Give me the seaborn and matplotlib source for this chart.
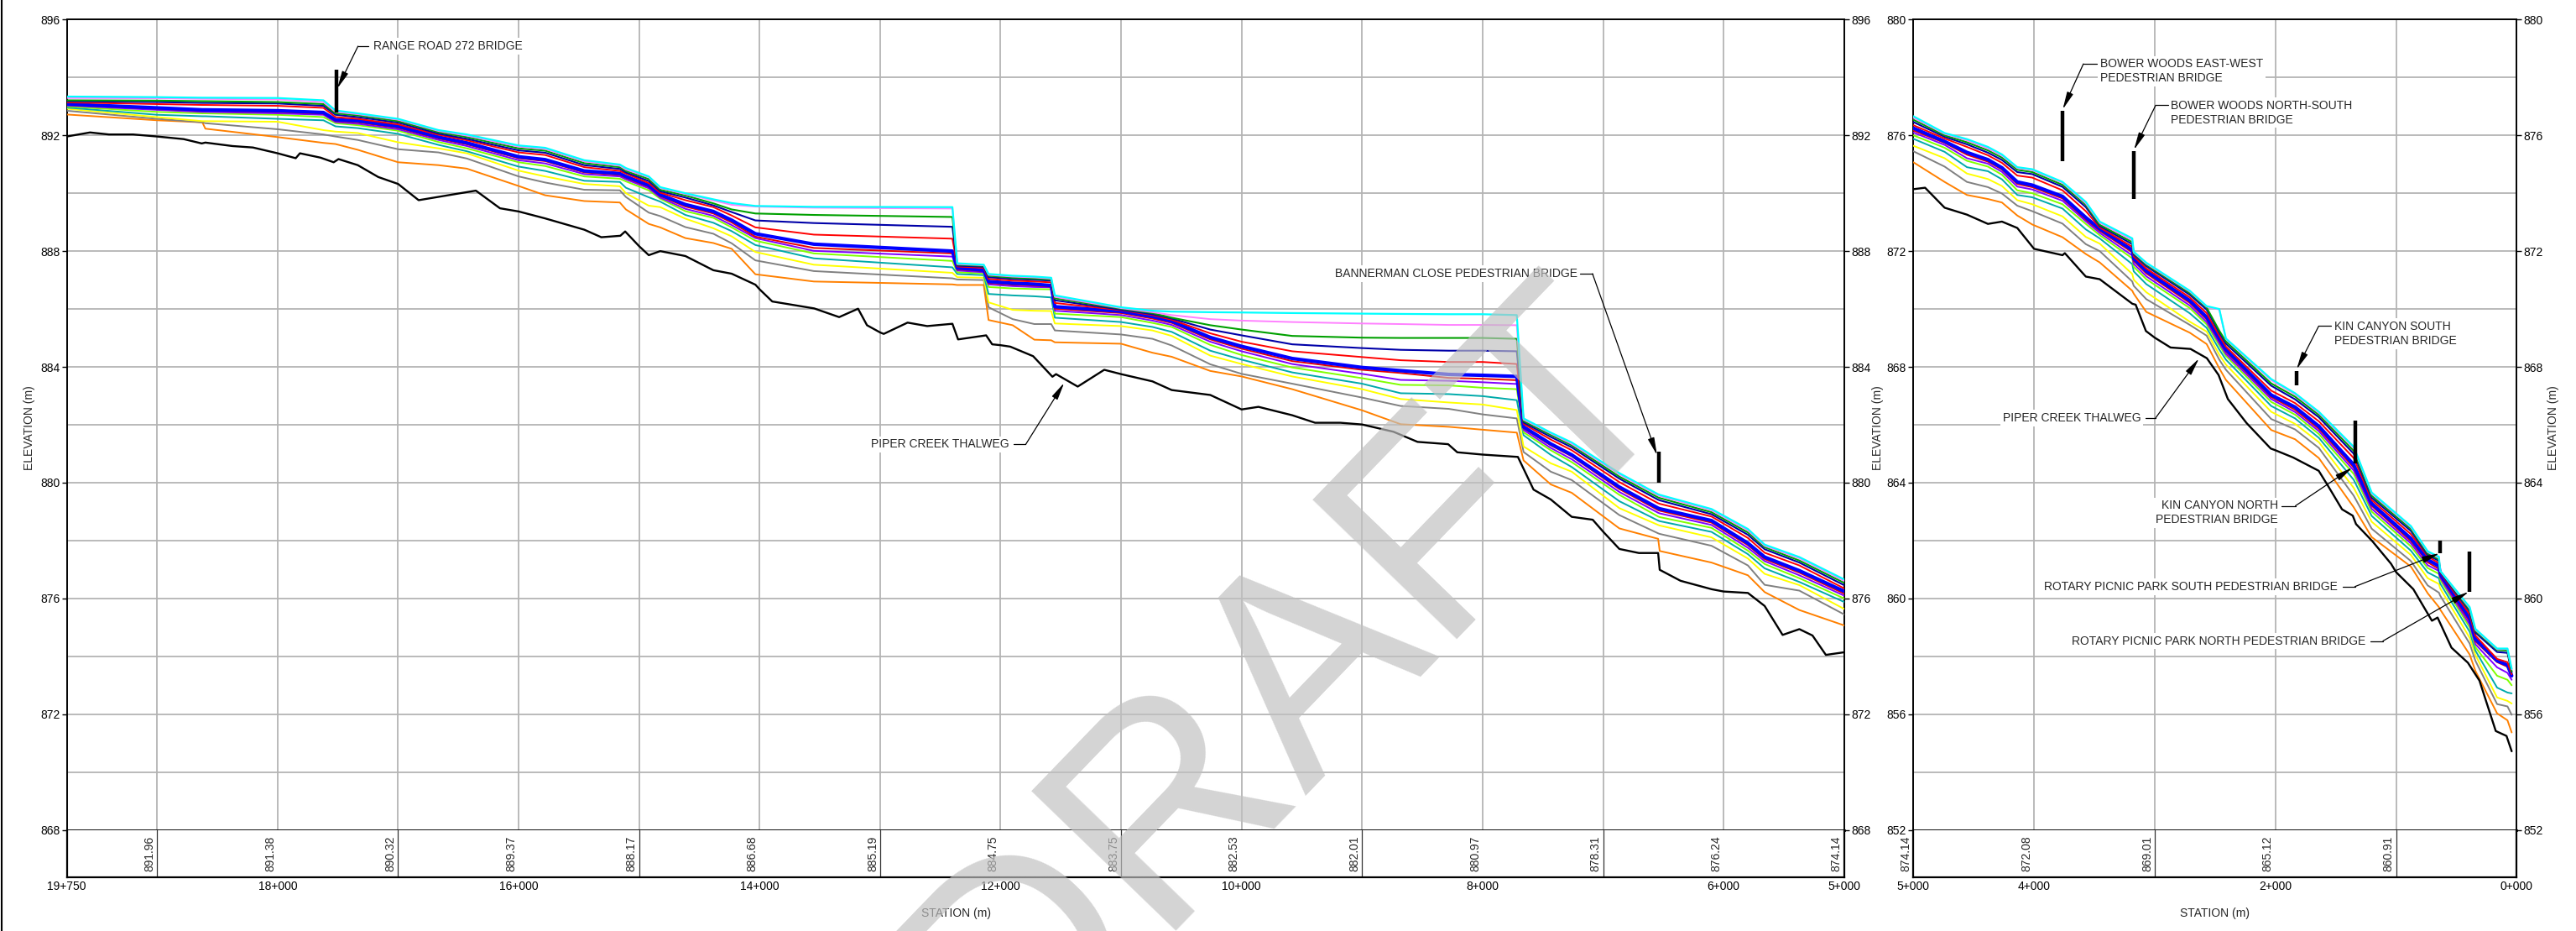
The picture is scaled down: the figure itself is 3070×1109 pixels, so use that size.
import numpy as np
import matplotlib
matplotlib.use("Agg")
import matplotlib.pyplot as plt
import matplotlib.transforms as mtransforms
from matplotlib.lines import Line2D
import seaborn as sns

# ------------------------------------------------------------------
# Piper Creek water surface profiles (elevations in m) by station (m)
# ------------------------------------------------------------------
# Upstream reach: 19+750 to 5+000
L_STATION = [19750, 19000, 18625, 18600, 18000, 17620, 17520, 17335, 17000, 16665,
             16430, 16000, 15780, 15455, 15160, 15110, 14920, 14825, 14616, 14384,
             14232, 14035, 13550, 12400, 12360, 12140, 12100, 11900, 11720, 11580,
             11550, 11000, 10740, 10580, 10260, 10000, 9580, 9000, 8680, 8280,
             8000, 7716, 7660, 7434, 7260, 6865, 6543, 6530, 6100, 5798,
             5659, 5371, 5000]

L_CYAN = [893.34, 893.32, 893.30, 893.30, 893.29, 893.21, 892.86, 892.76, 892.57, 892.18,
          892.03, 891.65, 891.57, 891.14, 890.99, 890.87, 890.58, 890.21, 890.00, 889.79,
          889.66, 889.56, 889.53, 889.52, 887.58, 887.53, 887.21, 887.15, 887.12, 887.08,
          886.47, 886.06, 885.94, 885.91, 885.89, 885.88, 885.86, 885.84, 885.83, 885.82,
          885.82, 885.79, 882.22, 881.73, 881.39, 880.33, 879.60, 879.58, 879.09, 878.40,
          877.86, 877.43, 876.66]
L_VIOLET = [893.29, 893.28, 893.26, 893.26, 893.24, 893.15, 892.81, 892.73, 892.54, 892.15,
            891.99, 891.61, 891.53, 891.10, 890.95, 890.82, 890.55, 890.18, 889.97, 889.75,
            889.60, 889.54, 889.50, 889.47, 887.55, 887.51, 887.18, 887.12, 887.09, 887.05,
            886.42, 886.03, 885.89, 885.79, 885.65, 885.60, 885.55, 885.50, 885.48, 885.45,
            885.45, 885.44, 882.18, 881.70, 881.34, 880.29, 879.56, 879.54, 879.05, 878.35,
            877.82, 877.39, 876.61]
L_GREEN = [893.21, 893.20, 893.18, 893.18, 893.15, 893.08, 892.76, 892.69, 892.49, 892.11,
           891.94, 891.55, 891.47, 891.04, 890.90, 890.77, 890.49, 890.12, 889.92, 889.65,
           889.44, 889.30, 889.25, 889.18, 887.53, 887.49, 887.15, 887.08, 887.05, 887.02,
           886.37, 886.01, 885.86, 885.70, 885.44, 885.29, 885.07, 885.01, 885.00, 885.00,
           885.00, 884.97, 882.13, 881.65, 881.29, 880.21, 879.49, 879.47, 878.98, 878.28,
           877.77, 877.31, 876.54]
L_NAVY = [893.18, 893.15, 893.12, 893.12, 893.10, 893.02, 892.71, 892.63, 892.44, 892.06,
          891.88, 891.48, 891.40, 890.97, 890.84, 890.72, 890.42, 890.07, 889.85, 889.58,
          889.35, 889.06, 888.97, 888.84, 887.50, 887.46, 887.10, 887.04, 887.01, 886.98,
          886.30, 885.98, 885.82, 885.67, 885.29, 885.09, 884.78, 884.65, 884.59, 884.56,
          884.56, 884.54, 882.08, 881.58, 881.22, 880.14, 879.41, 879.39, 878.91, 878.20,
          877.70, 877.24, 876.46]
L_RED_UPPER = [893.14, 893.08, 893.05, 893.05, 893.02, 892.95, 892.63, 892.57, 892.38, 892.02,
               891.83, 891.41, 891.32, 890.90, 890.77, 890.68, 890.35, 890.02, 889.76, 889.52,
               889.23, 888.82, 888.57, 888.43, 887.47, 887.42, 887.04, 886.98, 886.95, 886.92,
               886.21, 885.96, 885.79, 885.63, 885.16, 884.87, 884.54, 884.34, 884.23, 884.17,
               884.17, 884.10, 882.03, 881.49, 881.12, 880.02, 879.29, 879.27, 878.83, 878.09,
               877.58, 877.14, 876.35]
L_BLUE = [893.08, 892.95, 892.88, 892.88, 892.85, 892.79, 892.54, 892.50, 892.31, 891.94,
          891.74, 891.26, 891.16, 890.77, 890.68, 890.58, 890.27, 889.95, 889.61, 889.37,
          889.07, 888.60, 888.24, 888.00, 887.42, 887.34, 886.95, 886.89, 886.86, 886.81,
          886.08, 885.92, 885.74, 885.58, 885.02, 884.71, 884.29, 883.98, 883.87, 883.74,
          883.71, 883.67, 881.93, 881.34, 880.96, 879.85, 879.12, 879.10, 878.69, 877.91,
          877.43, 876.96, 876.25]
L_RED_LOWER = [893.05, 892.92, 892.85, 892.85, 892.81, 892.75, 892.50, 892.45, 892.26, 891.89,
               891.69, 891.21, 891.11, 890.72, 890.63, 890.53, 890.22, 889.90, 889.54, 889.30,
               888.99, 888.50, 888.11, 887.92, 887.37, 887.31, 886.90, 886.84, 886.81, 886.77,
               886.01, 885.86, 885.67, 885.52, 884.95, 884.63, 884.20, 883.90, 883.79, 883.62,
               883.59, 883.54, 881.88, 881.29, 880.91, 879.78, 879.05, 879.03, 878.62, 877.84,
               877.36, 876.89, 876.17]
L_PURPLE = [893.03, 892.88, 892.81, 892.81, 892.76, 892.71, 892.46, 892.40, 892.21, 891.84,
            891.63, 891.14, 891.03, 890.66, 890.58, 890.48, 890.17, 889.85, 889.46, 889.22,
            888.90, 888.45, 888.01, 887.81, 887.33, 887.27, 886.85, 886.79, 886.76, 886.75,
            885.94, 885.79, 885.60, 885.45, 884.87, 884.54, 884.10, 883.76, 883.55, 883.52,
            883.47, 883.41, 881.82, 881.20, 880.81, 879.68, 878.96, 878.94, 878.54, 877.75,
            877.29, 876.80, 876.10]
L_LIME = [893.00, 892.81, 892.76, 892.76, 892.71, 892.63, 892.42, 892.35, 892.16, 891.77,
          891.55, 891.07, 890.94, 890.58, 890.50, 890.41, 890.10, 889.81, 889.38, 889.15,
          888.82, 888.36, 887.92, 887.66, 887.27, 887.23, 886.76, 886.71, 886.69, 886.68,
          885.84, 885.72, 885.52, 885.38, 884.76, 884.41, 883.98, 883.61, 883.38, 883.36,
          883.28, 883.23, 881.74, 881.12, 880.71, 879.58, 878.83, 878.81, 878.44, 877.65,
          877.19, 876.70, 876.00]
L_TEAL = [892.96, 892.71, 892.66, 892.66, 892.57, 892.52, 892.31, 892.25, 892.05, 891.67,
          891.45, 890.92, 890.77, 890.43, 890.39, 890.19, 889.86, 889.71, 889.25, 888.98,
          888.69, 888.21, 887.75, 887.44, 887.21, 887.17, 886.52, 886.47, 886.44, 886.40,
          885.70, 885.55, 885.38, 885.21, 884.56, 884.25, 883.81, 883.42, 883.09, 883.06,
          882.99, 882.85, 881.64, 880.96, 880.54, 879.36, 878.69, 878.67, 878.30, 877.53,
          877.04, 876.57, 875.88]
L_YELLOW = [892.92, 892.63, 892.49, 892.49, 892.47, 892.18, 892.13, 892.08, 891.76, 891.55,
            891.38, 890.78, 890.58, 890.32, 890.24, 890.00, 889.57, 889.52, 889.12, 888.79,
            888.51, 887.97, 887.53, 887.25, 887.10, 887.08, 886.23, 885.97, 885.94, 885.93,
            885.50, 885.41, 885.26, 885.07, 884.39, 884.10, 883.67, 883.23, 882.89, 882.77,
            882.70, 882.51, 881.25, 880.67, 880.38, 879.12, 878.54, 878.52, 878.11, 877.38,
            876.85, 876.46, 875.64]
L_GREY = [892.85, 892.57, 892.45, 892.42, 892.21, 892.03, 891.96, 891.84, 891.52, 891.41,
          891.20, 890.58, 890.37, 890.12, 890.10, 889.87, 889.33, 889.21, 888.83, 888.60,
          888.27, 887.68, 887.31, 887.06, 887.02, 887.00, 886.06, 885.65, 885.48, 885.48,
          885.26, 885.12, 884.97, 884.74, 884.09, 883.76, 883.42, 882.94, 882.65, 882.55,
          882.36, 882.22, 881.06, 880.38, 880.09, 878.88, 878.25, 878.23, 877.82, 877.14,
          876.47, 876.27, 875.45]
L_ORANGE = [892.72, 892.52, 892.45, 892.23, 891.94, 891.74, 891.70, 891.50, 891.07, 890.97,
            890.85, 890.25, 889.93, 889.73, 889.68, 889.44, 888.94, 888.82, 888.45, 888.28,
            888.08, 887.20, 886.95, 886.85, 886.83, 886.83, 885.62, 885.44, 884.94, 884.92,
            884.85, 884.80, 884.49, 884.35, 883.86, 883.67, 883.23, 882.50, 882.02, 881.93,
            881.83, 881.73, 880.77, 879.94, 879.65, 878.42, 878.06, 877.64, 877.24, 876.80,
            876.22, 875.60, 875.07]

# Downstream reach: 5+000 to 0+000
R_STATION = [5000, 4741, 4556, 4382, 4266, 4139, 4015, 3764, 3571, 3456,
             3186, 3174, 3070, 2709, 2570, 2465, 2410, 2035, 1837, 1640,
             1351, 1202, 877, 738, 645, 635, 390, 343, 163, 77, 42]

R_CYAN = [876.66, 876.08, 875.87, 875.60, 875.34, 874.90, 874.83, 874.39, 873.70, 873.02,
          872.44, 871.98, 871.60, 870.63, 870.10, 870.00, 868.98, 867.58, 867.09, 866.45,
          865.24, 863.66, 862.50, 861.63, 861.44, 860.96, 859.70, 858.95, 858.27, 858.27, 857.57]
R_VIOLET = [876.61, 876.05, 875.83, 875.55, 875.30, 874.87, 874.80, 874.36, 873.65, 872.98,
            872.38, 871.95, 871.57, 870.60, 870.08, 869.98, 868.96, 867.54, 867.05, 866.41,
            865.20, 863.62, 862.46, 861.60, 861.40, 860.95, 859.66, 858.92, 858.25, 858.25, 857.55]
R_GREEN = [876.54, 876.00, 875.76, 875.48, 875.23, 874.81, 874.73, 874.29, 873.60, 872.91,
           872.31, 871.92, 871.53, 870.55, 870.05, 869.25, 868.88, 867.43, 866.97, 866.34,
           865.10, 863.55, 862.40, 861.55, 861.35, 860.95, 859.60, 858.88, 858.22, 858.20, 857.48]
R_NAVY = [876.46, 875.95, 875.69, 875.40, 875.15, 874.73, 874.66, 874.22, 873.52, 872.87,
          872.24, 871.88, 871.48, 870.49, 869.98, 869.18, 868.80, 867.35, 866.88, 866.26,
          865.00, 863.48, 862.33, 861.50, 861.30, 860.92, 859.55, 858.82, 858.15, 858.12, 857.45]
R_RED_UPPER = [876.35, 875.89, 875.60, 875.31, 875.05, 874.61, 874.54, 874.10, 873.38, 872.82,
               872.15, 871.82, 871.40, 870.40, 869.86, 869.08, 868.70, 867.18, 866.75, 866.12,
               864.85, 863.40, 862.22, 861.45, 861.22, 860.90, 859.45, 858.72, 857.91, 857.80, 857.38]
R_BLUE = [876.25, 875.79, 875.41, 875.16, 874.88, 874.39, 874.28, 873.89, 873.16, 872.77,
          872.04, 871.74, 871.31, 870.29, 869.72, 868.98, 868.60, 867.03, 866.61, 865.95,
          864.62, 863.28, 862.07, 861.34, 861.12, 860.85, 859.31, 858.60, 857.85, 857.70, 857.33]
R_RED_LOWER = [876.17, 875.74, 875.33, 875.09, 874.82, 874.32, 874.21, 873.82, 873.09, 872.70,
               871.96, 871.66, 871.23, 870.21, 869.64, 868.90, 868.53, 866.96, 866.52, 865.86,
               864.52, 863.20, 861.98, 861.25, 861.02, 860.78, 859.20, 858.52, 857.80, 857.64, 857.30]
R_PURPLE = [876.10, 875.67, 875.21, 875.02, 874.74, 874.23, 874.13, 873.74, 873.03, 872.63,
            871.85, 871.56, 871.13, 870.12, 869.55, 868.82, 868.45, 866.89, 866.44, 865.78,
            864.42, 863.10, 861.90, 861.15, 860.95, 860.72, 859.10, 858.42, 857.62, 857.43, 857.19]
R_LIME = [876.00, 875.57, 875.12, 874.92, 874.64, 874.10, 874.00, 873.62, 872.94, 872.55,
          871.75, 871.46, 871.03, 870.03, 869.47, 868.74, 868.38, 866.79, 866.35, 865.68,
          864.30, 863.00, 861.80, 861.05, 860.85, 860.65, 859.00, 858.32, 857.33, 857.19, 857.00]
R_TEAL = [875.88, 875.43, 874.90, 874.76, 874.48, 873.94, 873.86, 873.47, 872.75, 872.44,
          871.55, 871.30, 870.86, 869.85, 869.35, 868.60, 868.25, 866.65, 866.22, 865.55,
          864.10, 862.85, 861.65, 860.90, 860.70, 860.52, 858.85, 858.20, 856.92, 856.75, 856.72]
R_YELLOW = [875.64, 875.21, 874.68, 874.49, 874.25, 873.76, 873.62, 873.20, 872.49, 872.26,
            871.21, 871.01, 870.58, 869.56, 869.22, 868.42, 868.08, 866.45, 866.03, 865.40,
            863.82, 862.65, 861.50, 860.70, 860.50, 860.35, 858.64, 858.05, 856.58, 856.46, 856.37]
R_GREY = [875.45, 874.92, 874.39, 874.21, 873.99, 873.57, 873.38, 872.95, 872.24, 872.00,
          870.95, 870.80, 870.34, 869.45, 869.08, 868.25, 867.90, 866.20, 865.84, 865.20,
          863.55, 862.41, 861.29, 860.45, 860.20, 860.10, 858.44, 857.85, 856.35, 856.27, 855.98]
R_ORANGE = [875.07, 874.39, 873.94, 873.80, 873.68, 873.23, 872.92, 872.48, 871.90, 871.61,
            870.63, 870.53, 869.90, 869.18, 868.79, 867.95, 867.55, 865.82, 865.50, 864.85,
            863.15, 862.12, 861.10, 860.18, 859.70, 859.62, 858.06, 857.50, 856.03, 855.79, 855.37]

# Piper Creek thalweg
THALWEG_L_STATION = [19750, 19557, 19400, 19200, 19000, 18780, 18630, 18600, 18375, 18205,
                     18000, 17850, 17815, 17645, 17535, 17495, 17335, 17165, 17000, 16830,
                     16355, 16155, 16000, 15780, 15455, 15314, 15156, 15116, 15000, 14920,
                     14825, 14616, 14384, 14232, 14035, 14000, 13895, 13547, 13340, 13183,
                     13109, 13000, 12970, 12772, 12609, 12400, 12353, 12120, 12070, 12000,
                     11920, 11730, 11570, 11540, 11360, 11140, 11000, 10740, 10580, 10260,
                     10000, 9860, 9580, 9390, 9180, 9000, 8740, 8540, 8286, 8210,
                     8000, 7707, 7577, 7434, 7260, 7086, 7000, 6865, 6703, 6543,
                     6530, 6357, 6100, 6000, 5798, 5659, 5510, 5371, 5262, 5151, 5000]
THALWEG_L_ELEV = [891.96, 892.10, 892.03, 892.03, 891.96, 891.87, 891.72, 891.75, 891.63, 891.58,
                  891.38, 891.21, 891.38, 891.23, 891.07, 891.18, 890.97, 890.56, 890.32, 889.76,
                  890.09, 889.48, 889.37, 889.13, 888.74, 888.48, 888.53, 888.68, 888.17, 887.86,
                  888.00, 887.83, 887.34, 887.22, 886.84, 886.68, 886.26, 886.02, 885.72, 886.01,
                  885.44, 885.19, 885.14, 885.53, 885.41, 885.49, 884.95, 885.09, 884.78, 884.75,
                  884.70, 884.37, 883.66, 883.75, 883.32, 883.90, 883.75, 883.50, 883.20, 883.03,
                  882.53, 882.62, 882.33, 882.07, 882.07, 882.01, 881.76, 881.41, 881.33, 881.05,
                  880.97, 880.89, 879.76, 879.42, 878.82, 878.72, 878.31, 877.71, 877.57, 877.57,
                  876.99, 876.61, 876.32, 876.24, 876.19, 875.74, 874.74, 874.94, 874.72, 874.05, 874.14]

THALWEG_R_STATION = [5000, 4903, 4741, 4556, 4382, 4266, 4139, 4000, 3764, 3745,
                     3571, 3456, 3185, 3158, 3073, 3000, 2869, 2703, 2568, 2471,
                     2394, 2239, 2039, 2000, 1853, 1641, 1564, 1448, 1359, 1332,
                     1197, 1042, 1000, 857, 703, 656, 541, 405, 309, 174, 85, 42]
THALWEG_R_ELEV = [874.14, 874.19, 873.50, 873.26, 872.94, 873.02, 872.80, 872.08, 871.86, 871.93,
                  871.12, 871.03, 870.18, 870.15, 869.24, 869.01, 868.67, 868.62, 868.30, 867.72,
                  866.89, 866.06, 865.18, 865.12, 864.87, 864.41, 863.89, 863.08, 862.86, 862.57,
                  861.98, 861.20, 860.91, 860.32, 859.23, 859.34, 858.30, 857.78, 857.16, 855.42,
                  855.25, 854.72]

# Thalweg elevation listed under each whole-kilometre station
BAND_L_STATION = [19000, 18000, 17000, 16000, 15000, 14000, 13000, 12000,
                  11000, 10000, 9000, 8000, 7000, 6000, 5000]
BAND_L_ELEV = [891.96, 891.38, 890.32, 889.37, 888.17, 886.68, 885.19, 884.75,
               883.75, 882.53, 882.01, 880.97, 878.31, 876.24, 874.14]
BAND_R_STATION = [5000, 4000, 3000, 2000, 1000]
BAND_R_ELEV = [874.14, 872.08, 869.01, 865.12, 860.91]

L_TICK_STATION = [19750, 18000, 16000, 14000, 12000, 10000, 8000, 6000, 5000]
R_TICK_STATION = [5000, 4000, 2000, 0]
L_GRID_STATION = [19000, 18000, 17000, 16000, 15000, 14000, 13000, 12000,
                  11000, 10000, 9000, 8000, 7000, 6000]
R_GRID_STATION = [4000, 3000, 2000, 1000]

# Structures: station, bottom and top of the marker
BRIDGE_L = {"RANGE ROAD 272 BRIDGE": (17515, 892.80, 894.26),
            "BANNERMAN CLOSE PEDESTRIAN BRIDGE": (6540, 880.00, 881.06)}
BRIDGE_R = {"BOWER WOODS EAST-WEST\nPEDESTRIAN BRIDGE": (3764, 875.12, 876.86),
            "BOWER WOODS NORTH-SOUTH\nPEDESTRIAN BRIDGE": (3174, 873.81, 875.45),
            "KIN CANYON SOUTH\nPEDESTRIAN BRIDGE": (1826, 867.37, 867.86),
            "KIN CANYON NORTH\nPEDESTRIAN BRIDGE": (1340, 864.67, 866.14),
            "ROTARY PICNIC PARK SOUTH PEDESTRIAN BRIDGE": (633, 861.56, 861.99),
            "ROTARY PICNIC PARK NORTH PEDESTRIAN BRIDGE": (390, 860.23, 861.61)}

# ------------------------------------------------------------------
# Styles
# ------------------------------------------------------------------
PROFILES = [  # drawn bottom to top
    ("orange", "#ff8000", 1.4, L_ORANGE, R_ORANGE),
    ("grey", "#808080", 1.4, L_GREY, R_GREY),
    ("yellow", "#ffff00", 1.4, L_YELLOW, R_YELLOW),
    ("teal", "#00aaaa", 1.4, L_TEAL, R_TEAL),
    ("lime", "#80ff00", 1.4, L_LIME, R_LIME),
    ("purple", "#8000ff", 1.4, L_PURPLE, R_PURPLE),
    ("red lower", "#e80000", 1.4, L_RED_LOWER, R_RED_LOWER),
    ("blue", "#0000ff", 3.0, L_BLUE, R_BLUE),
    ("red upper", "#ff0000", 1.4, L_RED_UPPER, R_RED_UPPER),
    ("navy", "#0000a8", 1.5, L_NAVY, R_NAVY),
    ("green", "#00a000", 1.5, L_GREEN, R_GREEN),
    ("violet", "#ff80ff", 1.4, L_VIOLET, R_VIOLET),
    ("cyan", "#00ffff", 1.6, L_CYAN, R_CYAN),
]

sns.set_theme(style="white")
plt.rcParams["font.family"] = ["Liberation Sans", "DejaVu Sans"]
plt.rcParams["axes.unicode_minus"] = False

W, H = 3070, 1109
fig = plt.figure(figsize=(W / 100, H / 100), dpi=100)


def box(x0, x1, y0, y1):
    return [x0 / W, 1 - y1 / H, (x1 - x0) / W, (y1 - y0) / H]


axL = fig.add_axes(box(79.6, 2197.7, 23.3, 988.7))
bandL = fig.add_axes(box(79.6, 2197.7, 988.7, 1045))
axR = fig.add_axes(box(2280.3, 2999.4, 23.3, 988.7))
bandR = fig.add_axes(box(2280.3, 2999.4, 988.7, 1045))

GRID = "#b4b4b4"


def station_label(s):
    return f"{s // 1000}+{s % 1000:03d}"


def setup(ax, band, xlim, ylim, grid_sta, tick_sta, band_sta, band_val):
    ax.set_xlim(*xlim)
    ax.set_ylim(*ylim)
    ax.set_yticks(np.arange(ylim[0], ylim[1] + 1, 4))
    ax.set_yticks(np.arange(ylim[0], ylim[1] + 1, 2), minor=True)
    ax.set_xticks(grid_sta)
    ax.grid(True, which="both", axis="y", color=GRID, lw=1.3)
    ax.grid(True, which="major", axis="x", color=GRID, lw=1.3)
    ax.set_axisbelow(True)
    ax.tick_params(axis="x", which="both", length=0, labelbottom=False)
    ax.tick_params(axis="y", which="major", left=True, right=True,
                   labelleft=True, labelright=True, length=4, width=1,
                   pad=2, labelsize=10, colors="black", direction="out")
    ax.tick_params(axis="y", which="minor", length=0)
    for sp in ax.spines.values():
        sp.set_color("black")
        sp.set_linewidth(1.4)
    ax.spines["bottom"].set_linewidth(2.0)
    ax.set_xlabel("")
    ax.set_ylabel("")

    band.set_xlim(*xlim)
    band.set_ylim(0, 1)
    band.set_yticks([])
    band.set_xticks(tick_sta)
    band.set_xticklabels([station_label(s) for s in tick_sta])
    band.set_xticks(grid_sta, minor=True)
    band.grid(True, which="minor", axis="x", color="#333333", lw=0.9)
    band.grid(False, which="major")
    band.tick_params(axis="x", which="both", length=0, pad=3, labelsize=10,
                     colors="black")
    band.spines["top"].set_visible(False)
    for k in ("left", "right", "bottom"):
        band.spines[k].set_color("black")
        band.spines[k].set_linewidth(1.6)
    band.set_facecolor("white")
    tr = mtransforms.offset_copy(band.get_xaxis_transform(), fig=fig,
                                 x=-2, y=0, units="dots")
    for s, v in zip(band_sta, band_val):
        band.text(s, 0.12, f"{v:.2f}", rotation=90, ha="right", va="bottom",
                  fontsize=10, transform=tr, clip_on=False)


setup(axL, bandL, (19750, 5000), (868, 896), L_GRID_STATION, L_TICK_STATION,
      BAND_L_STATION, BAND_L_ELEV)
setup(axR, bandR, (5000, 0), (852, 880), R_GRID_STATION, R_TICK_STATION,
      BAND_R_STATION, BAND_R_ELEV)

# Water surface profiles
for name, color, lw, left_vals, right_vals in PROFILES:
    sns.lineplot(x=L_STATION, y=left_vals, ax=axL, color=color, linewidth=lw,
                 estimator=None, sort=False, legend=False, zorder=3)
    sns.lineplot(x=R_STATION, y=right_vals, ax=axR, color=color, linewidth=lw,
                 estimator=None, sort=False, legend=False, zorder=3)

# Thalweg
sns.lineplot(x=THALWEG_L_STATION, y=THALWEG_L_ELEV, ax=axL, color="black",
             linewidth=1.7, estimator=None, sort=False, legend=False, zorder=4)
sns.lineplot(x=THALWEG_R_STATION, y=THALWEG_R_ELEV, ax=axR, color="black",
             linewidth=1.7, estimator=None, sort=False, legend=False, zorder=4)
for ax in (axL, axR):
    ax.set_xlabel("")
    ax.set_ylabel("")

# Structure markers
for ax, bridges in ((axL, BRIDGE_L), (axR, BRIDGE_R)):
    for label, (sta, lo, hi) in bridges.items():
        ax.plot([sta, sta], [lo, hi], color="black", lw=3.2,
                solid_capstyle="butt", zorder=6)

ARROW = dict(arrowstyle="-|>,head_length=0.7,head_width=0.13", color="black",
             lw=0.9, shrinkA=0, shrinkB=0, mutation_scale=18)
TEXT_BOX = dict(facecolor="white", edgecolor="none", pad=2.0)


def callout(ax, text, text_xy, ha, stub, tip):
    ax.text(text_xy[0], text_xy[1], text, ha=ha, va="center", fontsize=10,
            linespacing=1.25, multialignment=ha, bbox=TEXT_BOX, zorder=7)
    ax.plot([stub[0], stub[1]], [stub[2], stub[2]], color="black", lw=0.9, zorder=7)
    ax.annotate("", xy=tip, xytext=(stub[1], stub[2]), arrowprops=ARROW, zorder=7)


callout(axL, "RANGE ROAD 272 BRIDGE", (17205, 895.08), "left",
        (17245, 17333, 895.08), (17505, 893.62))
callout(axL, "BANNERMAN CLOSE PEDESTRIAN BRIDGE", (7215, 887.22), "right",
        (7190, 7088, 887.22), (6552, 880.95))
callout(axL, "PIPER CREEK THALWEG", (11930, 881.32), "right",
        (11890, 11792, 881.32), (11472, 883.45))

callout(axR, "BOWER WOODS EAST-WEST\nPEDESTRIAN BRIDGE", (3452, 878.22), "left",
        (3478, 3591, 878.47), (3762, 876.90))
callout(axR, "BOWER WOODS NORTH-SOUTH\nPEDESTRIAN BRIDGE", (2866, 876.78), "left",
        (2890, 2992, 877.04), (3172, 875.50))
callout(axR, "KIN CANYON SOUTH\nPEDESTRIAN BRIDGE", (1514, 869.15), "left",
        (1540, 1641, 869.41), (1824, 867.92))
callout(axR, "KIN CANYON NORTH\nPEDESTRIAN BRIDGE", (1977, 862.96), "right",
        (1950, 1834, 863.20), (1362, 864.52))
callout(axR, "ROTARY PICNIC PARK SOUTH PEDESTRIAN BRIDGE", (1485, 860.41), "right",
        (1445, 1341, 860.41), (640, 861.56))
callout(axR, "ROTARY PICNIC PARK NORTH PEDESTRIAN BRIDGE", (1253, 858.53), "right",
        (1215, 1109, 858.53), (398, 860.23))
callout(axR, "PIPER CREEK THALWEG", (3116, 866.24), "right",
        (3076, 2992, 866.24), (2633, 868.29))

# Axis titles
for xpix in (35, 2238, 3043):
    fig.text(xpix / W, 1 - 510 / H, "ELEVATION (m)", rotation=90, ha="center",
             va="center", fontsize=10)
for xpix in (1139, 2640):
    fig.text(xpix / W, 1 - 1088 / H, "STATION (m)", ha="center", va="center",
             fontsize=10)

# Sheet border on the left edge
fig.add_artist(Line2D([0.0006, 0.0006], [0, 1], color="black", lw=1.5,
                      transform=fig.transFigure))

# Watermark
fig.text(1536 / W, 1 - 809 / H, "DRAFT", rotation=46, fontsize=250,
         color="#c0c0c0", alpha=0.68, ha="center", va="center",
         rotation_mode="anchor", zorder=20)

fig.savefig("out.png", dpi=100, facecolor="white")
